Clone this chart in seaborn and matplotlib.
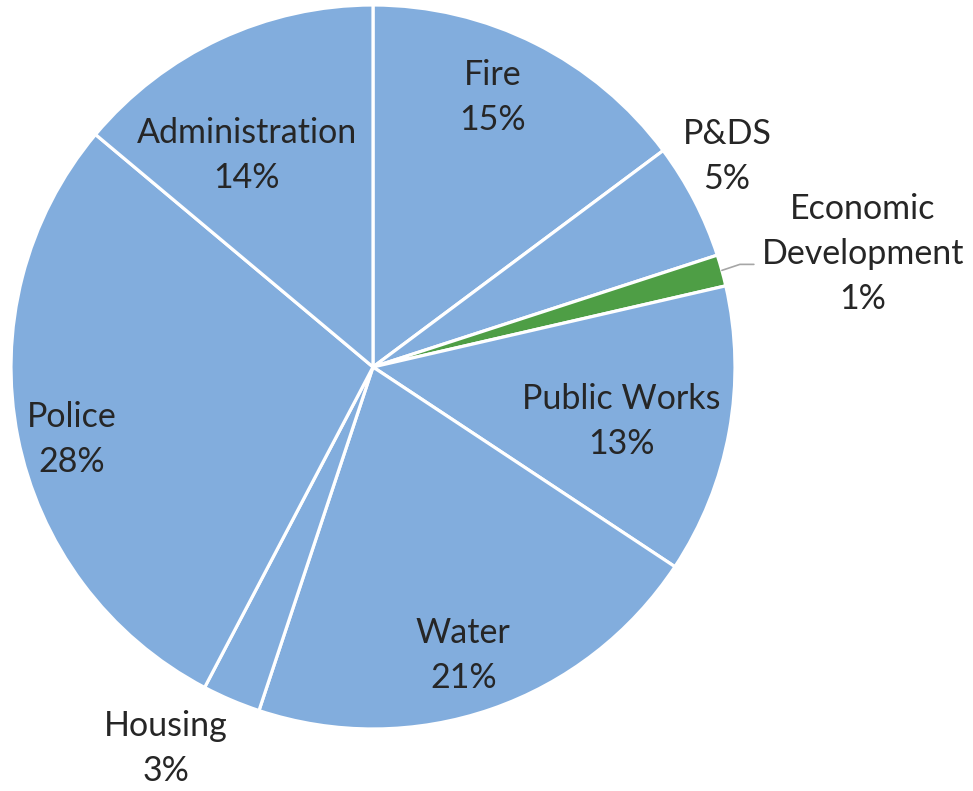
import numpy as np
import matplotlib
matplotlib.use("Agg")
import matplotlib.pyplot as plt
import seaborn as sns

# ---- data ----
categories = ["Fire", "P&DS", "Economic\nDevelopment", "Public Works", "Water",
              "Housing", "Police", "Administration"]
values = [14.8, 5.2, 1.4, 12.9, 20.8, 2.6, 28.4, 13.9]
pct_labels = ["15%", "5%", "1%", "13%", "21%", "3%", "28%", "14%"]

# ---- style ----
BLUE = "#82ADDD"
GREEN = "#4E9E45"
colors = [BLUE, BLUE, GREEN, BLUE, BLUE, BLUE, BLUE, BLUE]
# label placement: radial factor and angle nudge (deg) relative to wedge mid angle
label_r = [0.82, 1.14, 1.39, 0.70, 0.83, 1.195, 0.855, 0.685]
label_da = [2.8, 3.6, -2.3, -1.6, -1.6, -5.6, 2.1, 5.6]

sns.set_theme(style="white")
plt.rcParams["font.family"] = ["Lato", "DejaVu Sans"]

W, H = 973, 791
fig = plt.figure(figsize=(W / 100, H / 100), dpi=100)
ax = fig.add_axes([0, 0, 1, 1])

cx, cy, R = 373, 424, 362
wedges, _ = ax.pie(values, colors=colors, startangle=90, counterclock=False,
                   center=(cx, cy), radius=R,
                   wedgeprops=dict(edgecolor="white", linewidth=2.3))
ax.set_xlim(0, W)
ax.set_ylim(0, H)
ax.set_aspect("equal")
ax.axis("off")

fs = 24.5
tc = "#262626"
line_gap = 45
for w, name, pct, rf, da in zip(wedges, categories, pct_labels, label_r, label_da):
    mid = np.deg2rad((w.theta1 + w.theta2) / 2 + da)
    x = cx + R * rf * np.cos(mid)
    y = cy + R * rf * np.sin(mid) - 2
    lines = name.split("\n") + [pct]
    n = len(lines)
    for i, t in enumerate(lines):
        yy = y + ((n - 1) / 2 - i) * line_gap
        ax.text(x, yy, t, ha="center", va="center", fontsize=fs, color=tc)

# leader line for the small green slice
w = wedges[2]
mid = np.deg2rad((w.theta1 + w.theta2) / 2)
x0, y0 = cx + R * np.cos(mid), cy + R * np.sin(mid)
ax.plot([x0, x0 + 18, x0 + 32], [y0, y0 + 6, y0 + 6], color="#A6A6A6", lw=1.2)

fig.savefig("out.png", dpi=100, facecolor="white")
